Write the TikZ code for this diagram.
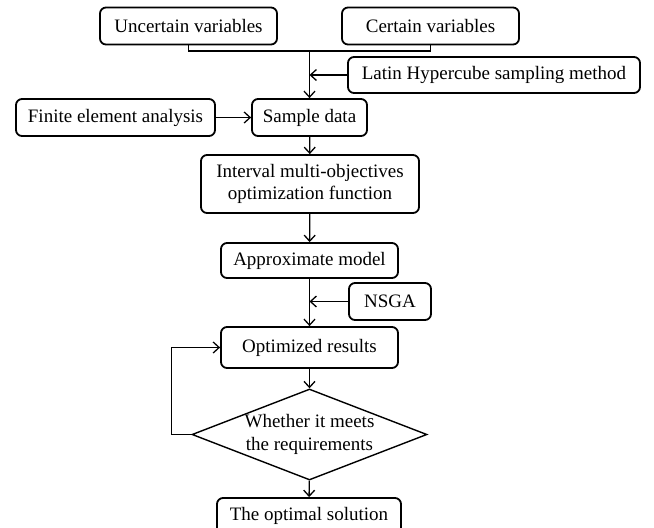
\documentclass[tikz,border=0pt]{standalone}
\usepackage{fontspec}
\setmainfont{Liberation Serif}
\usetikzlibrary{arrows.meta,shapes.geometric}

\begin{document}
\begin{tikzpicture}[x=1pt,y=-1pt,
  box/.style={draw,line width=1.8pt,rounded corners=6pt,inner sep=0pt,
    minimum height=37pt,align=center,font=\fontsize{19}{22.5}\selectfont},
  test/.style={draw,line width=1.4pt,diamond,aspect=2.58,inner sep=0pt,
    minimum width=235pt,minimum height=91pt,align=center,
    font=\fontsize{19}{22.5}\selectfont},
  arr/.style={line width=1.3pt,-{Straight Barb[length=6pt,width=11pt]}},
  link/.style={line width=1.3pt}]
  \useasboundingbox (0,0) rectangle (654,528);
  \node[box,minimum width=177pt] (unc) at (188.5,26) {Uncertain variables};
  \node[box,minimum width=177pt] (cert) at (430.5,26) {Certain variables};
  \node[box,minimum width=292pt,minimum height=36pt] (lhs) at (494,75) {Latin Hypercube sampling method};
  \node[box,minimum width=199pt] (fea) at (115.5,117.5) {Finite element analysis};
  \node[box,minimum width=115pt] (sample) at (309.5,117.5) {Sample data};
  \node[box,minimum width=218pt,minimum height=58pt] (interval) at (310,184) {Interval multi-objectives\\optimization function};
  \node[box,minimum width=177pt,minimum height=35pt] (approx) at (309.5,260.5) {Approximate model};
  \node[box,minimum width=82pt] (nsga) at (390,301.5) {NSGA};
  \node[box,minimum width=177pt,minimum height=41pt] (optres) at (309.5,347.5) {Optimized results};
  \node[test] (decide) at (309.5,434.5) {Whether it meets\\the requirements};
  \node[box,minimum width=184pt,minimum height=36pt] (final) at (309,516) {The optimal solution};
  \coordinate (join) at (309.5,51);
  \draw[link] (unc.south) |- (join) -| (cert.south);
  \draw[arr] (join) -- (sample.north);
  \draw[arr] (lhs.west) -- (lhs.west -| join);
  \draw[arr] (fea) -- (sample);
  \draw[arr] (sample) -- (interval);
  \draw[arr] (interval) -- (approx);
  \draw[arr] (approx) -- (optres);
  \draw[arr] (nsga.west) -- (nsga.west -| approx.south);
  \draw[arr] (optres) -- (decide);
  \draw[arr] (decide) -- (final);
  \draw[arr] (decide.west) -- ++(-20,0) |- (optres.west);
\end{tikzpicture}
\end{document}
